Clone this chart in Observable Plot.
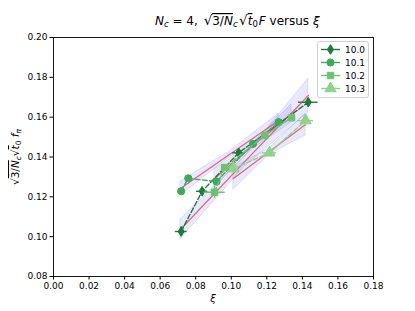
<!DOCTYPE html>
<html><head><meta charset="utf-8">
<script src="https://cdn.jsdelivr.net/npm/d3@7"></script>
<script src="https://cdn.jsdelivr.net/npm/@observablehq/plot@0.6"></script>
<style>
html,body{margin:0;padding:0;background:#fff;}
svg{font-family:"DejaVu Sans",sans-serif;}
</style></head>
<body><div id="chart"></div>
<script>
// ---- data ----
const seriesNames = ["10.0", "10.1", "10.2", "10.3"];
const seriesColors = ["#1b7a3c", "#40a85b", "#6cc26f", "#8fd38a"];
const seriesSymbols = ["thindiamond", "circle", "square", "triangle"];

const xi_100 = [0.0718, 0.0836, 0.1042, 0.1433];
const v_100 = [0.1026, 0.1228, 0.1421, 0.1675];
const xerr_100 = [0.0033, 0.0032, 0.0035, 0.0055];
const yerr_100 = [0.0022, 0.0015, 0.0015, 0.0012];

const xi_101 = [0.0718, 0.0758, 0.0917, 0.1122, 0.1267];
const v_101 = [0.1228, 0.1293, 0.1277, 0.1466, 0.1575];
const xerr_101 = [0.0012, 0.0012, 0.0012, 0.0015, 0.0015];
const yerr_101 = [0.0008, 0.0008, 0.0008, 0.0008, 0.0008];

const xi_102 = [0.0906, 0.0962, 0.1189, 0.1339];
const v_102 = [0.1223, 0.1347, 0.1508, 0.1597];
const xerr_102 = [0.0060, 0.0015, 0.0015, 0.0015];
const yerr_102 = [0.0030, 0.0010, 0.0010, 0.0010];

const xi_103 = [0.1012, 0.1215, 0.1418];
const v_103 = [0.1342, 0.1421, 0.1583];
const xerr_103 = [0.0020, 0.0040, 0.0045];
const yerr_103 = [0.0010, 0.0012, 0.0030];

// linear fits (red) with confidence bands (blue), start / middle / end
const fit_x_100 = [0.0714, 0.1070, 0.1434];
const fit_y_100 = [0.1036, 0.1372, 0.1709];
const fit_lo_100 = [0.0986, 0.1347, 0.1624];
const fit_hi_100 = [0.1086, 0.1397, 0.1794];

const fit_x_101 = [0.0714, 0.0990, 0.1267];
const fit_y_101 = [0.1242, 0.1413, 0.1583];
const fit_lo_101 = [0.1207, 0.1398, 0.1548];
const fit_hi_101 = [0.1277, 0.1428, 0.1618];

const fit_x_102 = [0.0906, 0.1120, 0.1339];
const fit_y_102 = [0.1292, 0.1455, 0.1618];
const fit_lo_102 = [0.1247, 0.1440, 0.1573];
const fit_hi_102 = [0.1337, 0.1470, 0.1663];

const fit_x_103 = [0.1012, 0.1215, 0.1418];
const fit_y_103 = [0.1292, 0.1428, 0.1563];
const fit_lo_103 = [0.1237, 0.1413, 0.1508];
const fit_hi_103 = [0.1347, 0.1443, 0.1618];

const xTicks = [0, 0.02, 0.04, 0.06, 0.08, 0.10, 0.12, 0.14, 0.16, 0.18];
const yTicks = [0.08, 0.10, 0.12, 0.14, 0.16, 0.18, 0.20];

// ---- build tables ----
const raw = [
  [xi_100, v_100, xerr_100, yerr_100],
  [xi_101, v_101, xerr_101, yerr_101],
  [xi_102, v_102, xerr_102, yerr_102],
  [xi_103, v_103, xerr_103, yerr_103]
];
const points = [];
raw.forEach(([xs, ys, xe, ye], k) => xs.forEach((x, i) => points.push({
  s: seriesNames[k], k, x, y: ys[i], x1: x - xe[i], x2: x + xe[i], y1: ys[i] - ye[i], y2: ys[i] + ye[i]
})));
const fitsRaw = [
  [fit_x_100, fit_y_100, fit_lo_100, fit_hi_100],
  [fit_x_101, fit_y_101, fit_lo_101, fit_hi_101],
  [fit_x_102, fit_y_102, fit_lo_102, fit_hi_102],
  [fit_x_103, fit_y_103, fit_lo_103, fit_hi_103]
];
const fits = [];
fitsRaw.forEach(([xs, ys, lo, hi], k) => xs.forEach((x, i) => fits.push({
  s: seriesNames[k], x, y: ys[i], lo: lo[i], hi: hi[i]
})));

const thinDiamond = {
  draw(ctx, size) {
    const r = Math.sqrt(size / Math.PI);
    ctx.moveTo(0, -r * 1.35);
    ctx.lineTo(r * 0.85, 0);
    ctx.lineTo(0, r * 1.35);
    ctx.lineTo(-r * 0.85, 0);
    ctx.closePath();
  }
};
const symFor = {thindiamond: thinDiamond, circle: d3.symbolCircle, square: d3.symbolSquare, triangle: d3.symbolTriangle};

const W = 415, H = 311;
const marks = [
  Plot.areaY(fits, {x: "x", y1: "lo", y2: "hi", z: "s", fill: "#5a5aff", fillOpacity: 0.14,
    stroke: "#5050ff", strokeOpacity: 0.15, strokeWidth: 1}),
  Plot.line(fits, {x: "x", y: "y", z: "s", stroke: "#ee4d5f", strokeOpacity: 0.85, strokeWidth: 1.3})
];
seriesNames.forEach((name, k) => {
  const d = points.filter(p => p.k === k);
  const c = seriesColors[k];
  marks.push(
    Plot.line(d, {x: "x", y: "y", stroke: c, strokeWidth: 1.4, strokeDasharray: "5,2.2"}),
    Plot.ruleY(d, {y: "y", x1: "x1", x2: "x2", stroke: c, strokeWidth: 1.4}),
    Plot.ruleX(d, {x: "x", y1: "y1", y2: "y2", stroke: c, strokeWidth: 1.4}),
    Plot.dot(d, {x: "x", y: "y", symbol: symFor[seriesSymbols[k]], r: k === 3 ? 4.2 : 3.6, fill: c, stroke: c, strokeWidth: 1})
  );
});
marks.push(
  Plot.frame({stroke: "#000", strokeWidth: 0.9}),
  Plot.axisX({ticks: xTicks, tickFormat: d3.format(".2f"), tickSize: 3.5, tickPadding: 2.5, label: null, fontSize: 9}),
  Plot.axisY({ticks: yTicks, tickFormat: d3.format(".2f"), tickSize: 3.5, tickPadding: 2.5, label: null, fontSize: 9})
);

const svg = Plot.plot({
  width: W, height: H,
  marginLeft: 53, marginRight: 42, marginTop: 37, marginBottom: 35,
  x: {domain: [0, 0.18]},
  y: {domain: [0.08, 0.20]},
  style: {fontFamily: "DejaVu Sans, sans-serif", fontSize: "9px", color: "#000", background: "#fff"},
  marks
});

const s = d3.select(svg);
// title
const t = s.append("text").attr("x", 155).attr("y", 25).attr("text-anchor", "start")
  .attr("font-size", 12).attr("fill", "#000");
t.append("tspan").attr("font-style", "italic").text("N");
t.append("tspan").attr("font-style", "italic").attr("font-size", 8.5).attr("dy", 2).text("c");
t.append("tspan").attr("dy", -2).text(" = 4, ");
t.append("tspan").attr("dx", 2).attr("font-size", 13.5).text("\u221A");
t.append("tspan").attr("style", "text-decoration: overline").text("3/");
t.append("tspan").attr("font-style", "italic").attr("style", "text-decoration: overline").text("N");
t.append("tspan").attr("font-style", "italic").attr("font-size", 8.5).attr("dy", 2).text("c");
t.append("tspan").attr("dy", -2).attr("dx", 1.5).attr("font-size", 13.5).text("\u221A");
t.append("tspan").attr("font-style", "italic").attr("style", "text-decoration: overline").text("t");
t.append("tspan").attr("font-size", 8.5).attr("dy", 2).text("0");
t.append("tspan").attr("dy", -2).attr("dx", 1).attr("font-style", "italic").text("F");
t.append("tspan").text(" versus ");
t.append("tspan").attr("font-style", "italic").text("\u03BE");

// x label
s.append("text").attr("x", 213).attr("y", 302).attr("text-anchor", "middle")
  .attr("font-size", 10).attr("font-style", "italic").text("\u03BE");

// y label
const yl = s.append("text").attr("transform", "translate(19,157) rotate(-90)")
  .attr("text-anchor", "middle").attr("font-size", 10.5).attr("fill", "#000");
yl.append("tspan").text("\u221A");
yl.append("tspan").attr("style", "text-decoration: overline").text("3/");
yl.append("tspan").attr("font-style", "italic").attr("style", "text-decoration: overline").text("N");
yl.append("tspan").attr("font-style", "italic").attr("font-size", 7.5).attr("dy", 2).text("c");
yl.append("tspan").attr("dy", -2).text("\u221A");
yl.append("tspan").attr("font-style", "italic").attr("style", "text-decoration: overline").text("t");
yl.append("tspan").attr("font-size", 7.5).attr("dy", 2).text("0");
yl.append("tspan").attr("dy", -2).attr("font-style", "italic").text(" f");
yl.append("tspan").attr("font-style", "italic").attr("font-size", 7.5).attr("dy", 2).text("\u03C0");

// legend
const lg = s.append("g").attr("text-anchor", "start");
lg.append("rect").attr("x", 317.5).attr("y", 41.5).attr("width", 51).attr("height", 56)
  .attr("rx", 2).attr("fill", "#fff").attr("fill-opacity", 0.85).attr("stroke", "#d0d0d0").attr("stroke-width", 1);
seriesNames.forEach((name, k) => {
  const yy = 49.5 + k * 13;
  const c = seriesColors[k];
  lg.append("line").attr("x1", 321).attr("x2", 340).attr("y1", yy).attr("y2", yy)
    .attr("stroke", c).attr("stroke-width", 1.4);
  const r = k === 3 ? 4.2 : 3.6;
  lg.append("path").attr("transform", `translate(330.5,${yy})`)
    .attr("d", d3.symbol(symFor[seriesSymbols[k]], r * r * Math.PI)())
    .attr("fill", c).attr("stroke", c);
  lg.append("text").attr("x", 345).attr("y", yy + 3.3).attr("text-anchor", "start")
    .attr("font-size", 9).attr("fill", "#000").text(name);
});

document.getElementById("chart").appendChild(svg);
</script>
</body></html>
